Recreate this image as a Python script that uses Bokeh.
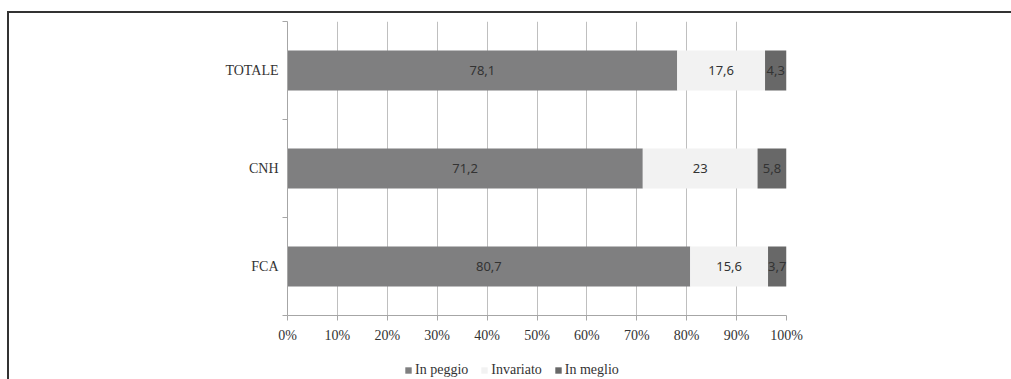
from bokeh.plotting import figure
from bokeh.layouts import column
from bokeh.models import Range1d, FixedTicker, Legend, LegendItem, ColumnDataSource
from bokeh.core.properties import value
from bokeh.embed import file_html
from bokeh.resources import INLINE
import numpy as np

# ---- data ----
categories = ["FCA", "CNH", "TOTALE"]
in_peggio = [80.7, 71.2, 78.1]
invariato = [15.6, 23.0, 17.6]
in_meglio = [3.7, 5.8, 4.3]
series_names = ["In peggio", "Invariato", "In meglio"]
series_colors = ["#7f7f80", "#f2f2f2", "#686868"]
x_ticks = [0, 10, 20, 30, 40, 50, 60, 70, 80, 90, 100]
x_tick_labels = ["0%", "10%", "20%", "30%", "40%", "50%", "60%", "70%", "80%", "90%", "100%"]

SERIF = "Liberation Serif"
SANS = "Noto Sans"

ypos = [i + 0.5 for i in range(len(categories))]
series = [in_peggio, invariato, in_meglio]

p = figure(width=1002, height=336, output_backend="svg", toolbar_location=None,
           x_range=Range1d(0, 100), y_range=Range1d(0, len(categories)),
           min_border_left=278, min_border_right=225, min_border_top=8, min_border_bottom=34)
p.outline_line_color = None
p.background_fill_color = "white"
p.border_fill_color = "white"

# bars
sources = []
left = np.zeros(len(categories))
for name, vals, col in zip(series_names, series, series_colors):
    vals = np.array(vals, dtype=float)
    right = left + vals
    src = ColumnDataSource(dict(y=ypos, left=left, right=right,
                                mid=(left + right) / 2,
                                lab=[f"{v:g}".replace(".", ",") for v in vals]))
    sources.append(src)
    p.hbar(y="y", left="left", right="right", height=0.41, source=src,
           fill_color=col, line_color=None)
    p.text(x="mid", y="y", text="lab", source=src, text_align="center",
           text_baseline="middle", text_font=value(SANS), text_font_size="13px",
           text_color="#333333")
    left = right

# axes
p.xaxis.ticker = FixedTicker(ticks=x_ticks)
p.xaxis.major_label_overrides = {t: l for t, l in zip(x_ticks, x_tick_labels)}
p.xaxis.major_label_text_font = SERIF
p.xaxis.major_label_text_font_size = "14px"
p.xaxis.major_label_text_color = "#333333"
p.xaxis.major_label_standoff = 7
p.xaxis.axis_line_color = "#a6a6a6"
p.xaxis.major_tick_line_color = "#a6a6a6"
p.xaxis.major_tick_in = 0
p.xaxis.major_tick_out = 5
p.xaxis.minor_tick_line_color = None

p.yaxis.ticker = FixedTicker(ticks=ypos, minor_ticks=list(range(len(categories) + 1)))
p.yaxis.major_label_overrides = {y: c for y, c in zip(ypos, categories)}
p.yaxis.major_label_text_font = SERIF
p.yaxis.major_label_text_font_size = "14px"
p.yaxis.major_label_text_color = "#333333"
p.yaxis.major_label_standoff = 3
p.yaxis.axis_line_color = "#a6a6a6"
p.yaxis.major_tick_line_color = None
p.yaxis.minor_tick_line_color = "#a6a6a6"
p.yaxis.minor_tick_in = 0
p.yaxis.minor_tick_out = 5

p.xgrid.ticker = FixedTicker(ticks=x_ticks)
p.xgrid.grid_line_color = "#bfbfbf"
p.ygrid.grid_line_color = None

# legend strip (its frame is aligned with the main frame by the column)
pl = figure(width=1002, height=30, output_backend="svg", toolbar_location=None,
            x_range=Range1d(0, 100), y_range=Range1d(10, 11),
            min_border=0, min_border_left=278, min_border_right=225,
            min_border_top=0, min_border_bottom=0)
pl.outline_line_color = None
pl.axis.visible = False
pl.grid.visible = False
pl.background_fill_color = "white"
pl.border_fill_color = "white"
leg_renderers = [pl.hbar(y="y", left="left", right="right", height=0.41, source=s,
                         fill_color=c, line_color=None)
                 for s, c in zip(sources, series_colors)]
legend = Legend(items=[LegendItem(label=n, renderers=[r]) for n, r in zip(series_names, leg_renderers)],
                orientation="horizontal", location=(117, 1),
                label_text_font=SERIF, label_text_font_size="14px", label_text_color="#333333",
                glyph_width=8, glyph_height=8, label_standoff=3, spacing=12, padding=0,
                label_height=14, border_line_color=None, background_fill_alpha=0, margin=0)
pl.add_layout(legend, "center")

layout = column(p, pl, margin=(11, 0, 0, 7),
                styles={"border-left": "2px solid #333333", "border-top": "2px solid #333333"})

open("out.html", "w").write(file_html(layout, INLINE))
